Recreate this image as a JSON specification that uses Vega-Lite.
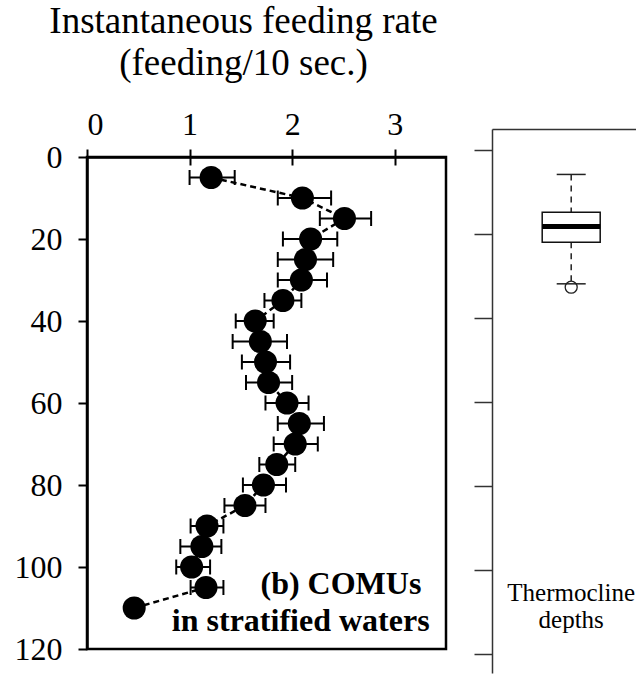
{
  "$schema": "https://vega.github.io/schema/vega-lite/v6.json",
  "padding": {"left": 12, "top": 0, "right": 0, "bottom": 0},
  "spacing": 46,
  "bounds": "flush",
  "config": {
    "font": "Liberation Serif",
    "text": {"font": "Liberation Serif"},
    "axis": {"grid": false, "labelColor": "black", "titleColor": "black", "labelFont": "Liberation Serif", "titleFont": "Liberation Serif"}
  },
  "hconcat": [
    {
      "width": 359,
      "height": 492,
      "view": {"stroke": "black", "strokeWidth": 2.5},
      "resolve": {"axis": {"x": "independent"}},
      "data": {
        "values": [
          {"depth": 5, "rate": 1.21, "lo": 1.0, "hi": 1.44},
          {"depth": 10, "rate": 2.1, "lo": 1.86, "hi": 2.38},
          {"depth": 15, "rate": 2.51, "lo": 2.27, "hi": 2.77},
          {"depth": 20, "rate": 2.18, "lo": 1.91, "hi": 2.44},
          {"depth": 25, "rate": 2.13, "lo": 1.86, "hi": 2.4},
          {"depth": 30, "rate": 2.09, "lo": 1.86, "hi": 2.34},
          {"depth": 35, "rate": 1.91, "lo": 1.73, "hi": 2.09},
          {"depth": 40, "rate": 1.64, "lo": 1.45, "hi": 1.82},
          {"depth": 45, "rate": 1.69, "lo": 1.42, "hi": 1.95},
          {"depth": 50, "rate": 1.74, "lo": 1.51, "hi": 1.98},
          {"depth": 55, "rate": 1.77, "lo": 1.55, "hi": 2.0},
          {"depth": 60, "rate": 1.95, "lo": 1.74, "hi": 2.16},
          {"depth": 65, "rate": 2.07, "lo": 1.86, "hi": 2.31},
          {"depth": 70, "rate": 2.03, "lo": 1.82, "hi": 2.25},
          {"depth": 75, "rate": 1.85, "lo": 1.68, "hi": 2.03},
          {"depth": 80, "rate": 1.72, "lo": 1.52, "hi": 1.94},
          {"depth": 85, "rate": 1.54, "lo": 1.34, "hi": 1.74},
          {"depth": 90, "rate": 1.17, "lo": 1.01, "hi": 1.33},
          {"depth": 95, "rate": 1.12, "lo": 0.91, "hi": 1.31},
          {"depth": 100, "rate": 1.02, "lo": 0.87, "hi": 1.2},
          {"depth": 105, "rate": 1.16, "lo": 1.01, "hi": 1.33},
          {"depth": 110, "rate": 0.46, "lo": 0.46, "hi": 0.46}
        ]
      },
      "layer": [
        {
          "mark": {"type": "line", "color": "black", "strokeWidth": 2.5, "strokeDash": [6, 4]},
          "encoding": {
            "x": {
              "field": "rate",
              "type": "quantitative",
              "scale": {"domain": [0, 3.5], "nice": false},
              "axis": {
                "orient": "top",
                "values": [0, 1, 2, 3],
                "format": "d",
                "domainColor": "black",
                "domainWidth": 2.5,
                "tickColor": "black",
                "tickWidth": 2,
                "tickSize": 8,
                "labelFontSize": 32,
                "labelPadding": 8,
                "title": ["Instantaneous feeding rate", "(feeding/10 sec.)"],
                "titleFontSize": 37,
                "titleFontWeight": "normal",
                "titleLineHeight": 42,
                "titleAlign": "center",
                "titleBaseline": "alphabetic",
                "titleX": 156,
                "titleY": -125
              }
            },
            "y": {
              "field": "depth",
              "type": "quantitative",
              "scale": {"domain": [0, 120], "reverse": true, "nice": false},
              "axis": {
                "orient": "left",
                "values": [0, 20, 40, 60, 80, 100, 120],
                "title": null,
                "domainColor": "black",
                "domainWidth": 2.5,
                "tickColor": "black",
                "tickWidth": 2,
                "tickSize": 9,
                "labelFontSize": 32,
                "labelPadding": 16
              }
            },
            "order": {"field": "depth", "type": "quantitative"}
          }
        },
        {
          "mark": {"type": "rule", "color": "black", "strokeWidth": 2},
          "encoding": {
            "x": {"field": "lo", "type": "quantitative", "axis": null},
            "x2": {"field": "hi"},
            "y": {"field": "depth", "type": "quantitative"}
          }
        },
        {
          "mark": {"type": "tick", "orient": "vertical", "color": "black", "size": 15, "thickness": 2, "opacity": 1},
          "encoding": {
            "x": {"field": "lo", "type": "quantitative", "axis": null},
            "y": {"field": "depth", "type": "quantitative"}
          }
        },
        {
          "mark": {"type": "tick", "orient": "vertical", "color": "black", "size": 15, "thickness": 2, "opacity": 1},
          "encoding": {
            "x": {"field": "hi", "type": "quantitative", "axis": null},
            "y": {"field": "depth", "type": "quantitative"}
          }
        },
        {
          "mark": {"type": "point", "shape": "circle", "filled": true, "color": "black", "size": 530, "opacity": 1},
          "encoding": {
            "x": {
              "field": "rate",
              "type": "quantitative",
              "axis": {
                "orient": "top",
                "values": [1, 2, 3],
                "domain": false,
                "labels": false,
                "title": null,
                "tickColor": "black",
                "tickWidth": 2,
                "tickSize": -8
              }
            },
            "y": {"field": "depth", "type": "quantitative"}
          }
        },
        {
          "data": {"values": [{"note": "(b) COMUs"}]},
          "mark": {"type": "text", "font": "Liberation Serif", "align": "right", "baseline": "alphabetic", "fontSize": 32, "fontWeight": "bold", "color": "black"},
          "encoding": {
            "x": {"datum": 3.26, "axis": null},
            "y": {"datum": 106.6},
            "text": {"field": "note", "type": "nominal"}
          }
        },
        {
          "data": {"values": [{"note": "in stratified waters"}]},
          "mark": {"type": "text", "font": "Liberation Serif", "align": "right", "baseline": "alphabetic", "fontSize": 32, "fontWeight": "bold", "color": "black"},
          "encoding": {
            "x": {"datum": 3.34, "axis": null},
            "y": {"datum": 115.5},
            "text": {"field": "note", "type": "nominal"}
          }
        }
      ]
    },
    {
      "width": 144,
      "height": 516,
      "view": {"stroke": null},
      "data": {
        "values": [
          {"group": "Thermocline depths", "whisker_top": 5.9, "q1": 14.9, "median": 18.3, "q3": 22.0, "whisker_bottom": 31.9, "outlier": 32.7}
        ]
      },
      "encoding": {
        "x": {
          "field": "group",
          "type": "nominal",
          "scale": {"paddingOuter": 0.5, "paddingInner": 0, "align": 0.6},
          "axis": {"orient": "top", "offset": 28, "ticks": false, "labels": false, "title": null, "domainColor": "#333", "domainWidth": 1.5}
        }
      },
      "layer": [
        {
          "mark": {"type": "rule", "color": "#222", "strokeWidth": 1.5, "strokeDash": [6, 5]},
          "encoding": {
            "y": {
              "field": "whisker_top",
              "type": "quantitative",
              "scale": {"domain": [-4.9, 124.4], "range": [-28, 516], "nice": false, "zero": false},
              "axis": {
                "orient": "left",
                "values": [0, 20, 40, 60, 80, 100, 120],
                "labels": false,
                "title": null,
                "domainColor": "#333",
                "domainWidth": 1.5,
                "tickColor": "#333",
                "tickWidth": 1.5,
                "tickSize": 18
              }
            },
            "y2": {"field": "q1"}
          }
        },
        {
          "mark": {"type": "rule", "color": "#222", "strokeWidth": 1.5, "strokeDash": [6, 5]},
          "encoding": {
            "y": {"field": "q3", "type": "quantitative"},
            "y2": {"field": "whisker_bottom"}
          }
        },
        {
          "mark": {"type": "tick", "orient": "horizontal", "color": "#222", "size": 29, "thickness": 1.5, "opacity": 1},
          "encoding": {"y": {"field": "whisker_top", "type": "quantitative"}}
        },
        {
          "mark": {"type": "tick", "orient": "horizontal", "color": "#222", "size": 29, "thickness": 1.5, "opacity": 1},
          "encoding": {"y": {"field": "whisker_bottom", "type": "quantitative"}}
        },
        {
          "mark": {"type": "bar", "size": 58, "fill": "white", "stroke": "#111", "strokeWidth": 1.5},
          "encoding": {
            "y": {"field": "q1", "type": "quantitative"},
            "y2": {"field": "q3"}
          }
        },
        {
          "mark": {"type": "tick", "orient": "horizontal", "color": "black", "size": 58, "thickness": 5, "opacity": 1},
          "encoding": {"y": {"field": "median", "type": "quantitative"}}
        },
        {
          "mark": {"type": "point", "shape": "circle", "filled": false, "color": "#222", "strokeWidth": 1.3, "size": 144, "opacity": 1},
          "encoding": {"y": {"field": "outlier", "type": "quantitative"}}
        },
        {
          "mark": {"type": "text", "font": "Liberation Serif", "align": "center", "baseline": "alphabetic", "fontSize": 25, "lineHeight": 27, "color": "black"},
          "encoding": {
            "y": {"datum": 107.2},
            "text": {"value": ["Thermocline", "depths"]}
          }
        }
      ]
    }
  ]
}
